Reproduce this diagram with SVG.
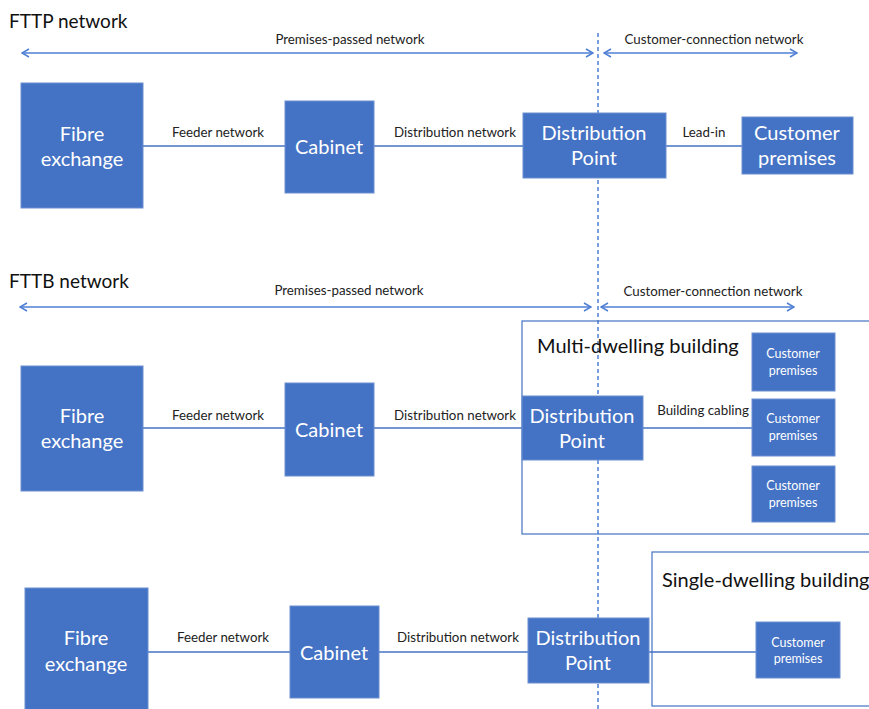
<svg xmlns="http://www.w3.org/2000/svg" width="869" height="709" viewBox="0 0 869 709">
<defs>
<style>
.box{fill:#4472c4;stroke:#6b8fd0;stroke-width:1}
.bt{fill:#fff;font-family:Lato,"Open Sans",sans-serif;font-size:20px;text-anchor:middle}
.st{fill:#fff;font-family:Lato,"Open Sans",sans-serif;font-size:12.5px;text-anchor:middle}
.lbl{fill:#222;font-family:Lato,"Open Sans",sans-serif;font-size:13.3px;text-anchor:middle}
.title{fill:#111;font-family:Lato,"Open Sans",sans-serif;font-size:19px}
.bname{fill:#111;font-family:Lato,"Open Sans",sans-serif;font-size:20px}
.ln{stroke:#4472c4;stroke-width:1.5;fill:none}
.arr{stroke:#4f7fd4;stroke-width:1.5;fill:none;marker-start:url(#ah);marker-end:url(#ah)}
.dash{stroke:#4f7fd4;stroke-width:1.5;stroke-dasharray:4 3;fill:none}
.bld{fill:none;stroke:#4472c4;stroke-width:1.2}
</style>
<marker id="ah" viewBox="0 0 10 10" refX="9" refY="5" markerWidth="10" markerHeight="10" markerUnits="userSpaceOnUse" orient="auto-start-reverse">
<path d="M2,1 L9,5 L2,9" fill="none" stroke="#4f7fd4" stroke-width="1.5"/>
</marker>
</defs>

<g id="connectors">
<line class="dash" x1="598" y1="33" x2="598" y2="709"/>
<line class="arr" x1="22" y1="53" x2="593" y2="53"/>
<line class="arr" x1="604" y1="53" x2="797" y2="53"/>
<line class="arr" x1="20" y1="307" x2="591" y2="307"/>
<line class="arr" x1="601" y1="307" x2="794" y2="307"/>
<line class="ln" x1="143" y1="146" x2="285" y2="146"/>
<line class="ln" x1="374" y1="146" x2="523" y2="146"/>
<line class="ln" x1="666" y1="146" x2="742" y2="146"/>
<line class="ln" x1="143" y1="428" x2="285" y2="428"/>
<line class="ln" x1="374" y1="428" x2="522" y2="428"/>
<line class="ln" x1="643" y1="428" x2="752" y2="428"/>
<line class="ln" x1="148" y1="652" x2="290" y2="652"/>
<line class="ln" x1="379" y1="652" x2="528" y2="652"/>
<line class="ln" x1="649" y1="652" x2="756" y2="652"/>
</g>

<g id="labels">
<text class="title" x="9" y="28">FTTP network</text>
<text class="lbl" x="350" y="44">Premises-passed network</text>
<text class="lbl" x="714" y="44">Customer-connection network</text>
<text class="lbl" x="218" y="137">Feeder network</text>
<text class="lbl" x="455" y="137">Distribution network</text>
<text class="lbl" x="704" y="137">Lead-in</text>
<text class="title" x="9" y="288">FTTB network</text>
<text class="lbl" x="349" y="295">Premises-passed network</text>
<text class="lbl" x="713" y="296">Customer-connection network</text>
<text class="lbl" x="218" y="420">Feeder network</text>
<text class="lbl" x="455" y="420">Distribution network</text>
<text class="lbl" x="703" y="415">Building cabling</text>
<text class="lbl" x="223" y="642">Feeder network</text>
<text class="lbl" x="458" y="642">Distribution network</text>
</g>

<g id="multi-dwelling-building">
<rect class="bld" x="522" y="321" width="360" height="213"/>
<text class="bname" x="537" y="353">Multi-dwelling building</text>
</g>
<g id="single-dwelling-building">
<rect class="bld" x="652" y="552" width="230" height="154"/>
<text class="bname" x="662" y="587">Single-dwelling building</text>
</g>

<g id="fttp-fibre-exchange"><rect class="box" x="21" y="83" width="122" height="125"/><text class="bt" x="82" y="141">Fibre</text><text class="bt" x="82" y="166">exchange</text></g>
<g id="fttp-cabinet"><rect class="box" x="285" y="101" width="89" height="92"/><text class="bt" x="329" y="154">Cabinet</text></g>
<g id="fttp-distribution-point"><rect class="box" x="523" y="113" width="143" height="65"/><text class="bt" x="594" y="140">Distribution</text><text class="bt" x="594" y="165">Point</text></g>
<g id="fttp-customer-premises"><rect class="box" x="742" y="117" width="111" height="57"/><text class="bt" x="797" y="140">Customer</text><text class="bt" x="797" y="165">premises</text></g>

<g id="fttb-fibre-exchange"><rect class="box" x="21" y="366" width="122" height="125"/><text class="bt" x="82" y="423">Fibre</text><text class="bt" x="82" y="448">exchange</text></g>
<g id="fttb-cabinet"><rect class="box" x="285" y="383" width="89" height="93"/><text class="bt" x="329" y="437">Cabinet</text></g>
<g id="fttb-distribution-point"><rect class="box" x="522" y="396" width="121" height="64"/><text class="bt" x="582" y="423">Distribution</text><text class="bt" x="582" y="448">Point</text></g>
<g id="fttb-customer-premises-1"><rect class="box" x="752" y="333" width="83" height="58"/><text class="st" x="793" y="358">Customer</text><text class="st" x="793" y="375">premises</text></g>
<g id="fttb-customer-premises-2"><rect class="box" x="752" y="399" width="83" height="57"/><text class="st" x="793" y="423">Customer</text><text class="st" x="793" y="440">premises</text></g>
<g id="fttb-customer-premises-3"><rect class="box" x="752" y="466" width="83" height="56"/><text class="st" x="793" y="490">Customer</text><text class="st" x="793" y="507">premises</text></g>

<g id="ftts-fibre-exchange"><rect class="box" x="25" y="588" width="123" height="130"/><text class="bt" x="86" y="645">Fibre</text><text class="bt" x="86" y="671">exchange</text></g>
<g id="ftts-cabinet"><rect class="box" x="290" y="606" width="89" height="92"/><text class="bt" x="334" y="660">Cabinet</text></g>
<g id="ftts-distribution-point"><rect class="box" x="528" y="618" width="121" height="65"/><text class="bt" x="588" y="645">Distribution</text><text class="bt" x="588" y="670">Point</text></g>
<g id="ftts-customer-premises"><rect class="box" x="756" y="622" width="84" height="56"/><text class="st" x="798" y="647">Customer</text><text class="st" x="798" y="663">premises</text></g>
</svg>
